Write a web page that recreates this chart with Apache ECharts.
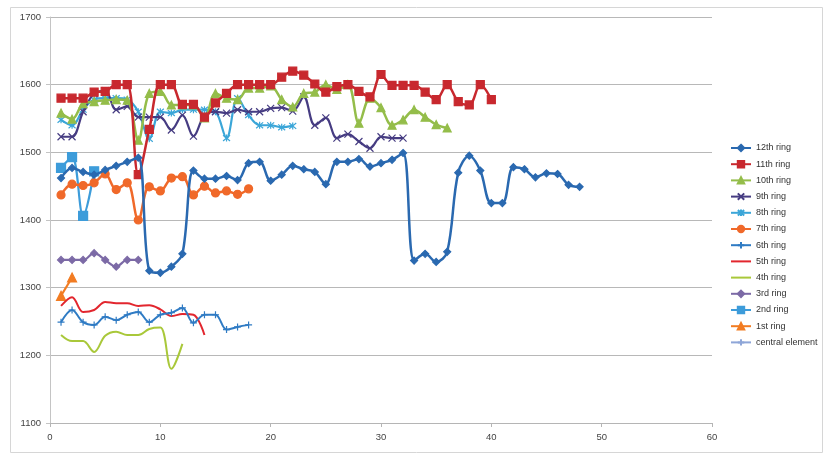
<!DOCTYPE html>
<html>
<head>
<meta charset="utf-8">
<script src="https://cdn.jsdelivr.net/npm/echarts@6/dist/echarts.min.js"></script>
<style>
html, body { margin: 0; padding: 0; background: #fff; }
#chart { width: 824px; height: 454px; }
</style>
</head>
<body>
<div id="chart"></div>
<script>
// values, x = 1, 2, 3 ...
const ring12 = [1462, 1477, 1471, 1467, 1474, 1480, 1486, 1492, 1325, 1322, 1331, 1350, 1473, 1461, 1461, 1465,
  1459, 1484, 1486, 1458, 1467, 1480, 1475, 1471, 1453, 1486, 1486, 1490, 1479, 1484, 1489, 1499,
  1340, 1350, 1338, 1353, 1470, 1495, 1473, 1425, 1425, 1478, 1475, 1463, 1469, 1468, 1452, 1449];
const ring11 = [1580, 1580, 1580, 1589, 1590, 1600, 1600, 1467, 1534, 1600, 1600, 1571, 1571, 1552, 1573, 1587,
  1600, 1600, 1600, 1600, 1611, 1620, 1614, 1601, 1589, 1597, 1600, 1590, 1582, 1615, 1599, 1599,
  1599, 1589, 1578, 1600, 1575, 1570, 1600, 1578];
const ring10 = [1558, 1549, 1572, 1575, 1577, 1578, 1577, 1518, 1587, 1590, 1570, 1570, 1570, 1551, 1587, 1580,
  1578, 1595, 1595, 1598, 1578, 1567, 1587, 1589, 1600, 1593, 1600, 1543, 1580, 1566, 1540, 1548,
  1563, 1552, 1541, 1536];
const ring9 = [1523, 1523, 1560, 1587, 1591, 1563, 1568, 1552, 1552, 1552, 1533, 1555, 1524, 1555, 1560, 1558,
  1563, 1560, 1560, 1565, 1566, 1561, 1582, 1540, 1551, 1521, 1527, 1516, 1506, 1523, 1521, 1521];
const ring8 = [1548, 1540, 1563, 1578, 1580, 1580, 1578, 1560, 1520, 1560, 1558, 1563, 1563, 1563, 1560, 1521,
  1580, 1555, 1540, 1540, 1537, 1539];
const ring7 = [1437, 1453, 1451, 1455, 1468, 1445, 1455, 1400, 1449, 1443, 1462, 1464, 1437, 1450, 1440, 1443,
  1438, 1446];
const ring6 = [1249, 1267, 1249, 1245, 1257, 1252, 1260, 1264, 1249, 1260, 1263, 1270, 1248, 1260, 1260, 1238,
  1242, 1245];
const ring5 = [1273, 1286, 1264, 1267, 1279, 1277, 1277, 1273, 1274, 1268, 1258, 1261, 1260, 1230];
const ring4 = [1230, 1221, 1221, 1205, 1229, 1235, 1230, 1230, 1239, 1241, 1180, 1217];
const ring3 = [1341, 1341, 1341, 1351, 1341, 1331, 1341, 1341];
const ring2 = [1477, 1493, 1406, 1472];
const ring1 = [1288, 1315];
const central = [];

const seriesNames = ["12th ring", "11th ring", "10th ring", "9th ring", "8th ring", "7th ring", "6th ring",
  "5th ring", "4th ring", "3rd ring", "2nd ring", "1st ring", "central element"];
const seriesValues = [ring12, ring11, ring10, ring9, ring8, ring7, ring6, ring5, ring4, ring3, ring2, ring1, central];

const X_PATH = "path://M0,0L10,10M10,0L0,10";
const STAR_PATH = "path://M0,0L10,10M10,0L0,10M5,-1L5,11";
const PLUS_PATH = "path://M5,0L5,10M0,5L10,5";
const LINE_ICON = "path://M0,0L20,0L20,2L0,2Z";

// colour, symbol, symbol size, line width
const looks = [
  ["#2A69B0", "diamond", 7, 2.5],
  ["#C8282E", "rect", 8, 2.5],
  ["#94BD4A", "triangle", 8, 2.5],
  ["#463C82", X_PATH, 7, 2.2],
  ["#3BA6D8", STAR_PATH, 7, 2.2],
  ["#F0692A", "circle", 8, 2.5],
  ["#2F7BC4", PLUS_PATH, 7, 2],
  ["#E2262E", "none", 0, 2],
  ["#A9C83A", "none", 0, 2],
  ["#7C6AA6", "diamond", 7, 2.2],
  ["#3D9CDA", "rect", 9, 2.2],
  ["#F27C22", "triangle", 9, 2.2],
  ["#8EA6D8", PLUS_PATH, 5, 1.5]
];

function buildSeries() {
  return seriesNames.map((name, i) => {
    const [color, symbol, size, width] = looks[i];
    return {
      name,
      type: "line",
      smooth: 0.35,
      data: seriesValues[i].map((v, k) => [k + 1, v]),
      symbol,
      symbolSize: size,
      lineStyle: { color, width },
      itemStyle: { color, borderColor: color, borderWidth: symbol === "none" ? 0 : 1.2 },
      emphasis: { disabled: true },
      z: 20 - i
    };
  });
}

// series without markers get a plain line in the legend
const legendItems = seriesNames.map((name, i) =>
  looks[i][1] === "none" ? { name, icon: LINE_ICON } : { name });

const chart = echarts.init(document.getElementById("chart"));
chart.setOption({
  animation: false,
  backgroundColor: "#fff",
  textStyle: { fontFamily: "Liberation Sans" },
  graphic: [{
    type: "rect",
    left: 8, top: 5,
    shape: { width: 812, height: 445 },
    style: { fill: "none", stroke: "#D6D6D6", lineWidth: 1 },
    silent: true
  }],
  grid: { left: 50, right: 112, top: 17, bottom: 31 },
  xAxis: {
    type: "value",
    min: 0, max: 60, interval: 10,
    splitLine: { show: false },
    axisLine: { lineStyle: { color: "#B5B5B5" } },
    axisTick: { show: true, length: 4, lineStyle: { color: "#B5B5B5" } },
    axisLabel: { color: "#444", fontSize: 9.5, margin: 9 }
  },
  yAxis: {
    type: "value",
    min: 1100, max: 1700, interval: 100,
    splitLine: { lineStyle: { color: "#B8B8B8", width: 1 } },
    axisLine: { show: true, lineStyle: { color: "#C4C4C4" } },
    axisTick: { show: true, length: 4, lineStyle: { color: "#C4C4C4" } },
    axisLabel: { color: "#444", fontSize: 9.5, margin: 9, formatter: v => String(v) }
  },
  legend: {
    orient: "vertical",
    left: 725, top: 138,
    itemWidth: 20, itemHeight: 8, itemGap: 6.2,
    textStyle: { color: "#333", fontSize: 9, lineHeight: 10 },
    data: legendItems,
    selectedMode: false
  },
  series: buildSeries()
});
</script>
</body>
</html>
